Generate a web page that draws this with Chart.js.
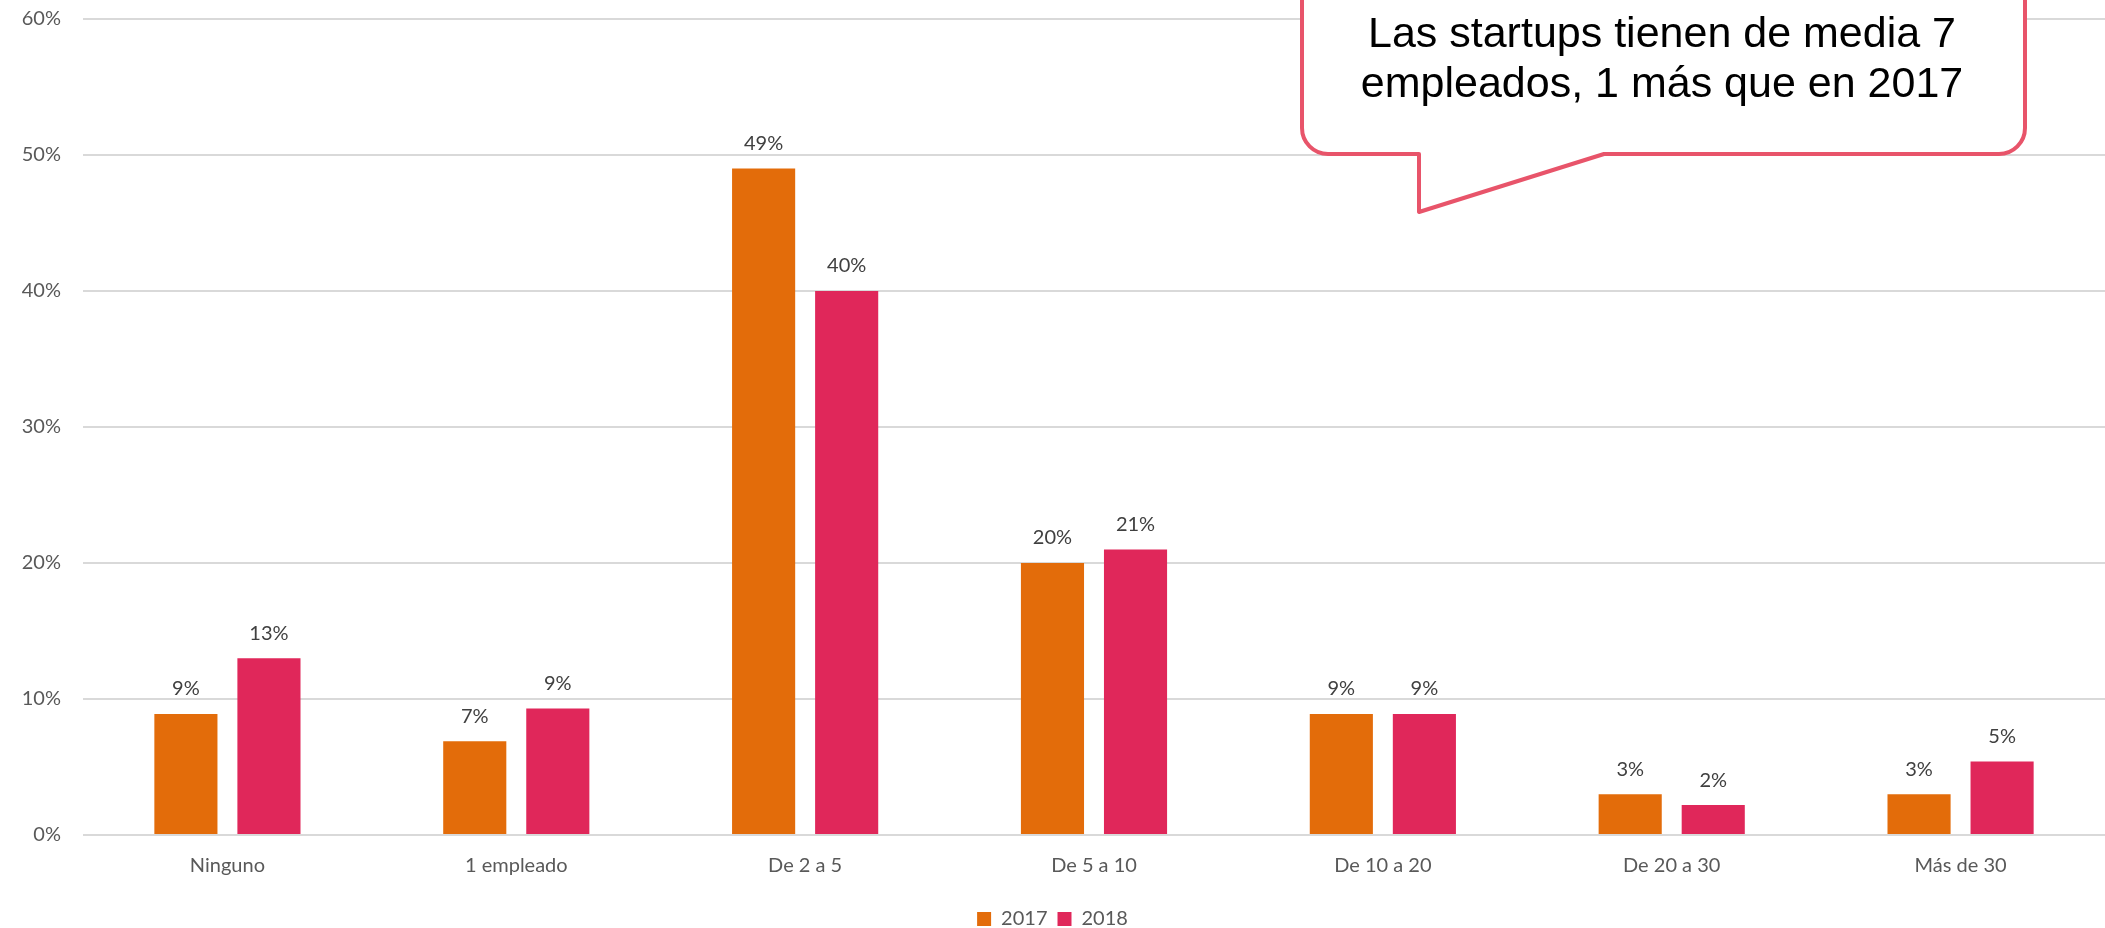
<!DOCTYPE html>
<html lang="es">
<head>
    <meta charset="UTF-8">
    <title>Empleados startups</title>
    <script src="https://cdn.jsdelivr.net/npm/chart.js"></script>
    <style>
        html, body { margin: 0; padding: 0; background: #fff; }
        #wrap { width: 2105px; height: 928px; position: relative; }
    </style>
</head>
<body>
    <div id="wrap"><canvas id="chart"></canvas></div>

    <script>
        const categories = ["Ninguno", "1 empleado", "De 2 a 5", "De 5 a 10", "De 10 a 20", "De 20 a 30", "Más de 30"];
        const values2017 = [8.9, 6.9, 49, 20, 8.9, 3, 3];
        const values2018 = [13, 9.3, 40, 21, 8.9, 2.2, 5.4];
        const yTicks = [0, 10, 20, 30, 40, 50, 60];
        const calloutLines = ["Las startups tienen de media 7", "empleados, 1 más que en 2017"];

        const tickFont = { family: "Lato, 'Open Sans', sans-serif", size: 20 };

        // value labels above each bar
        const barLabels = {
            id: "barLabels",
            afterDatasetsDraw(chart) {
                const ctx = chart.ctx;
                ctx.save();
                ctx.font = "20px Lato, 'Open Sans', sans-serif";
                ctx.fillStyle = "#404040";
                ctx.textAlign = "center";
                ctx.textBaseline = "middle";
                chart.data.datasets.forEach((ds, i) => {
                    chart.getDatasetMeta(i).data.forEach((bar, j) => {
                        ctx.fillText(Math.round(ds.data[j]) + "%", bar.x, bar.y - 25);
                    });
                });
                ctx.restore();
            }
        };

        // speech bubble in the top right
        const callout = {
            id: "callout",
            afterDraw(chart) {
                const ctx = chart.ctx;
                const l = 1302, r = 2025, t = -40, b = 154, rad = 26;
                const tailL = 1419, tailR = 1604, tipX = 1419, tipY = 212;
                ctx.save();
                ctx.beginPath();
                ctx.moveTo(l + rad, t);
                ctx.lineTo(r - rad, t);
                ctx.arcTo(r, t, r, t + rad, rad);
                ctx.lineTo(r, b - rad);
                ctx.arcTo(r, b, r - rad, b, rad);
                ctx.lineTo(tailR, b);
                ctx.lineTo(tipX, tipY);
                ctx.lineTo(tailL, b);
                ctx.lineTo(l + rad, b);
                ctx.arcTo(l, b, l, b - rad, rad);
                ctx.lineTo(l, t + rad);
                ctx.arcTo(l, t, l + rad, t, rad);
                ctx.closePath();
                ctx.fillStyle = "#ffffff";
                ctx.fill();
                ctx.lineWidth = 4;
                ctx.strokeStyle = "#E8546A";
                ctx.lineJoin = "round";
                ctx.stroke();
                ctx.fillStyle = "#000000";
                ctx.font = "43px 'Liberation Sans', Arial, sans-serif";
                ctx.textAlign = "center";
                ctx.textBaseline = "middle";
                ctx.fillText(calloutLines[0], 1662, 35);
                ctx.fillText(calloutLines[1], 1662, 85);
                ctx.restore();
            }
        };

        new Chart(document.getElementById("chart"), {
            type: "bar",
            data: {
                labels: categories,
                datasets: [
                    { label: "2017", data: values2017, backgroundColor: "#E36C0A" },
                    { label: "2018", data: values2018, backgroundColor: "#E0275A" }
                ]
            },
            options: {
                responsive: true,
                maintainAspectRatio: false,
                animation: false,
                devicePixelRatio: 1,
                categoryPercentage: 0.575,
                barPercentage: 0.76,
                layout: { padding: { top: 19, right: 0, left: 0, bottom: -11 } },
                plugins: {
                    legend: {
                        position: "bottom",
                        labels: {
                            boxWidth: 14,
                            boxHeight: 14,
                            padding: 10,
                            color: "#595959",
                            font: tickFont
                        }
                    },
                    tooltip: { enabled: false }
                },
                scales: {
                    x: {
                        afterFit(scale) { scale.height += 10; },
                        grid: { display: false },
                        border: { display: false },
                        ticks: { color: "#595959", font: tickFont, padding: 11 }
                    },
                    y: {
                        min: 0,
                        max: 60,
                        afterFit(scale) { scale.width = 83; scale.paddingTop = 0; },
                        afterBuildTicks(scale) { scale.ticks = yTicks.map(v => ({ value: v })); },
                        grid: { color: "#D9D9D9", lineWidth: 2, drawTicks: false },
                        border: { display: false },
                        ticks: {
                            color: "#595959",
                            font: tickFont,
                            padding: 22,
                            callback: v => v + "%"
                        }
                    }
                }
            },
            plugins: [barLabels, callout]
        });
    </script>
</body>
</html>
